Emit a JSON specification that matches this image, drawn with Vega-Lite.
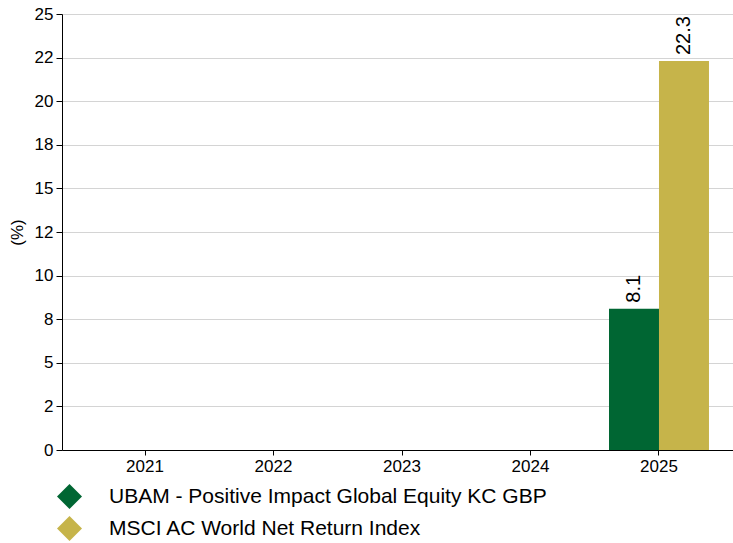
{
  "$schema": "https://vega.github.io/schema/vega-lite/v6.json",
  "autosize": {"type": "none"},
  "padding": {"left": 62, "top": 14, "right": 0, "bottom": 93},
  "width": 680,
  "height": 436,
  "config": {
    "font": "Liberation Sans",
    "view": {"stroke": null}
  },
  "data": {
    "values": [
      {"year": "2025", "series": "UBAM - Positive Impact Global Equity KC GBP", "value": 8.1},
      {"year": "2025", "series": "MSCI AC World Net Return Index", "value": 22.3}
    ]
  },
  "encoding": {
    "x": {
      "field": "year", "type": "nominal",
      "scale": {"domain": ["2021", "2022", "2023", "2024", "2025"], "paddingInner": 0.222, "paddingOuter": 0.257},
      "axis": {
        "title": null, "labelAngle": 0, "labelFontSize": 17, "labelColor": "#000",
        "domainColor": "#000", "tickColor": "#000", "tickSize": 5, "labelPadding": 3, "grid": false
      }
    },
    "xOffset": {
      "field": "series", "type": "nominal",
      "scale": {"domain": ["UBAM - Positive Impact Global Equity KC GBP", "MSCI AC World Net Return Index"]}
    },
    "y": {
      "field": "value", "type": "quantitative",
      "scale": {"domain": [0, 25], "nice": false},
      "axis": {
        "title": "(%)", "titleFontSize": 17, "titleFontWeight": "normal", "titleColor": "#000", "titlePadding": 8,
        "values": [0, 2.5, 5, 7.5, 10, 12.5, 15, 17.5, 20, 22.5, 25],
        "labelExpr": "datum.value == 2.5 ? '2' : datum.value == 7.5 ? '8' : datum.value == 12.5 ? '12' : datum.value == 17.5 ? '18' : datum.value == 22.5 ? '22' : format(datum.value, 'd')",
        "labelFontSize": 17, "labelColor": "#000", "labelPadding": 3,
        "domainColor": "#000", "tickColor": "#000", "tickSize": 6,
        "gridColor": "#d4d4d4", "gridWidth": 1
      }
    }
  },
  "layer": [
    {
      "mark": {"type": "bar"},
      "encoding": {
        "color": {
          "field": "series", "type": "nominal",
          "scale": {"domain": ["UBAM - Positive Impact Global Equity KC GBP", "MSCI AC World Net Return Index"], "range": ["#006633", "#C6B44A"]},
          "legend": {
            "title": null, "orient": "none", "legendX": -5, "legendY": 470,
            "symbolType": "diamond", "symbolSize": 625, "symbolStrokeWidth": 0,
            "labelFontSize": 21, "labelColor": "#000", "labelOffset": 27, "rowPadding": 7,
            "labelLimit": 600
          }
        }
      }
    },
    {
      "mark": {"type": "text", "angle": 270, "align": "left", "baseline": "middle", "dx": 6, "fontSize": 20},
      "encoding": {
        "text": {"field": "value", "type": "quantitative", "format": ".1f"},
        "color": {"value": "#000"}
      }
    }
  ]
}
